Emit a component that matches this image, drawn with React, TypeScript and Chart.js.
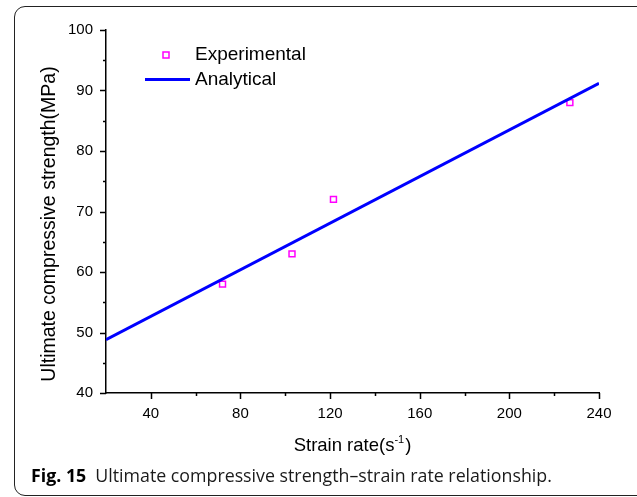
import React, { useEffect, useRef } from "react";
import { Chart, registerables } from "chart.js";

Chart.register(...registerables);

// Measured strain rate (s^-1) and ultimate compressive strength (MPa)
const strainRate = [72, 103, 121.5, 227];
const experimentalStrength = [58, 63, 72, 88];

// Analytical fit, evaluated at the ends of the strain-rate range
const analyticalRate = [20, 240];
const analyticalStrength = [48.8, 91.2];

// Axis ranges and tick spacing
const xMin = 20;
const xMax = 240;
const xMajorStep = 40;
const xMinorTicks = [60, 100, 140, 180, 220];
const yMin = 40;
const yMax = 100;
const yMajorStep = 10;
const yMinorTicks = [45, 55, 65, 75, 85, 95];

const seriesNames = ["Experimental", "Analytical"];
const xTitle = "Strain rate(s";
const xTitleSup = "-1";
const yTitle = "Ultimate compressive strength(MPa)";
const captionLabel = "Fig. 15";
const captionText = "Ultimate compressive strength\u2013strain rate relationship.";

const FONT = "'Liberation Sans', Arial, Helvetica, sans-serif";
const MAGENTA = "#ff00ff";
const BLUE = "#0000ff";

const decorations = {
  id: "decorations",
  afterDraw(chart: any) {
    const { ctx, chartArea, scales } = chart;
    const xs = scales.x;
    const ys = scales.y;
    const axisX = chartArea.left;
    const axisY = chartArea.bottom;
    ctx.save();
    ctx.strokeStyle = "#000";
    ctx.lineWidth = 1.5;

    // tick marks, major and minor, drawn outside the axes
    const yMajors: number[] = [];
    for (let v = yMin; v <= yMax; v += yMajorStep) yMajors.push(v);
    const xMajors: number[] = [];
    for (let v = 40; v <= xMax; v += xMajorStep) xMajors.push(v);
    ctx.beginPath();
    yMajors.forEach((v) => {
      const p = Math.round(ys.getPixelForValue(v)) + 0.5;
      ctx.moveTo(axisX - 6, p);
      ctx.lineTo(axisX, p);
    });
    yMinorTicks.forEach((v) => {
      const p = Math.round(ys.getPixelForValue(v)) + 0.5;
      ctx.moveTo(axisX - 3, p);
      ctx.lineTo(axisX, p);
    });
    xMajors.forEach((v) => {
      const p = Math.round(xs.getPixelForValue(v)) + 0.5;
      ctx.moveTo(p, axisY);
      ctx.lineTo(p, axisY + 6);
    });
    xMinorTicks.forEach((v) => {
      const p = Math.round(xs.getPixelForValue(v)) + 0.5;
      ctx.moveTo(p, axisY);
      ctx.lineTo(p, axisY + 3);
    });
    ctx.stroke();

    // axis titles
    ctx.fillStyle = "#000";
    ctx.font = `18.5px ${FONT}`;
    ctx.textBaseline = "alphabetic";
    const mainW = ctx.measureText(xTitle).width;
    ctx.font = `11px ${FONT}`;
    const supW = ctx.measureText(xTitleSup).width;
    ctx.font = `18.5px ${FONT}`;
    const closeW = ctx.measureText(")").width;
    const total = mainW + supW + 1 + closeW;
    const cx = (chartArea.left + chartArea.right) / 2;
    let tx = cx - total / 2;
    const baseY = 451;
    ctx.textAlign = "left";
    ctx.fillText(xTitle, tx, baseY);
    tx += mainW;
    ctx.font = `11px ${FONT}`;
    ctx.fillText(xTitleSup, tx, baseY - 8);
    tx += supW + 1;
    ctx.font = `18.5px ${FONT}`;
    ctx.fillText(")", tx, baseY);

    ctx.save();
    ctx.translate(55, 224);
    ctx.rotate(-Math.PI / 2);
    ctx.textAlign = "center";
    ctx.font = `19.5px ${FONT}`;
    ctx.fillText(yTitle, 0, 0);
    ctx.restore();

    // legend
    const lx = chartArea.left;
    ctx.strokeStyle = MAGENTA;
    ctx.lineWidth = 1.5;
    ctx.strokeRect(lx + 57, 52, 6, 6);
    ctx.strokeStyle = BLUE;
    ctx.lineWidth = 3;
    ctx.beginPath();
    ctx.moveTo(lx + 39, 79.5);
    ctx.lineTo(lx + 84, 79.5);
    ctx.stroke();
    ctx.fillStyle = "#000";
    ctx.textAlign = "left";
    ctx.textBaseline = "middle";
    ctx.font = `19px ${FONT}`;
    ctx.fillText(seriesNames[0], lx + 89, 55);
    ctx.fillText(seriesNames[1], lx + 89, 80);
    ctx.restore();
  },
};

export default function App() {
  const canvasRef = useRef<HTMLCanvasElement | null>(null);

  useEffect(() => {
    if (!canvasRef.current) return;
    const chart = new Chart(canvasRef.current, {
      type: "scatter",
      data: {
        datasets: [
          {
            label: seriesNames[0],
            data: strainRate.map((x, i) => ({ x, y: experimentalStrength[i] })),
            pointStyle: "rect",
            pointRadius: 4.2,
            pointBorderColor: MAGENTA,
            pointBackgroundColor: "rgba(0,0,0,0)",
            pointBorderWidth: 1.5,
            order: 1,
          },
          {
            label: seriesNames[1],
            data: analyticalRate.map((x, i) => ({ x, y: analyticalStrength[i] })),
            showLine: true,
            borderColor: BLUE,
            borderWidth: 3,
            pointRadius: 0,
            order: 0,
          },
        ],
      },
      options: {
        responsive: false,
        animation: false,
        layout: { padding: { top: 30, right: 38, bottom: 0, left: 0 } },
        plugins: {
          legend: { display: false },
          tooltip: { enabled: false },
        },
        scales: {
          x: {
            type: "linear",
            min: xMin,
            max: xMax,
            grid: { display: false, drawTicks: false, tickLength: 0 },
            border: { display: true, color: "#000", width: 1.5 },
            ticks: {
              stepSize: xMajorStep,
              color: "#000",
              font: { family: FONT, size: 15 },
              padding: 12,
              maxRotation: 0,
              callback: (v: any) => (Number(v) % xMajorStep === 0 ? String(v) : ""),
            },
            afterFit: (scale: any) => {
              scale.height = 104;
            },
          },
          y: {
            type: "linear",
            min: yMin,
            max: yMax,
            grid: { display: false, drawTicks: false, tickLength: 0 },
            border: { display: true, color: "#000", width: 1.5 },
            ticks: {
              stepSize: yMajorStep,
              color: "#000",
              font: { family: FONT, size: 15 },
              padding: 13,
            },
            afterFit: (scale: any) => {
              scale.width = 106;
            },
          },
        },
      },
      plugins: [decorations],
    });
    return () => chart.destroy();
  }, []);

  return (
    <div
      style={{
        position: "fixed",
        left: 0,
        top: 0,
        width: 637,
        height: 497,
        overflow: "hidden",
        background: "#fff",
      }}
    >
      <div
        style={{
          position: "absolute",
          left: 14,
          top: 6,
          width: 660,
          height: 488,
          border: "1px solid #222",
          borderRadius: 11,
        }}
      />
      <canvas
        ref={canvasRef}
        width={637}
        height={497}
        style={{ position: "absolute", left: 0, top: 0 }}
      />
      <div
        style={{
          position: "absolute",
          left: 31,
          top: 464,
          fontFamily: "'Open Sans', 'Noto Sans', sans-serif",
          fontSize: 17.8,
          color: "#1a1a1a",
          whiteSpace: "nowrap",
          lineHeight: "22px",
        }}
      >
        <span style={{ fontWeight: 700, color: "#000" }}>{captionLabel}</span>
        <span style={{ marginLeft: 9 }}>{captionText}</span>
      </div>
    </div>
  );
}
